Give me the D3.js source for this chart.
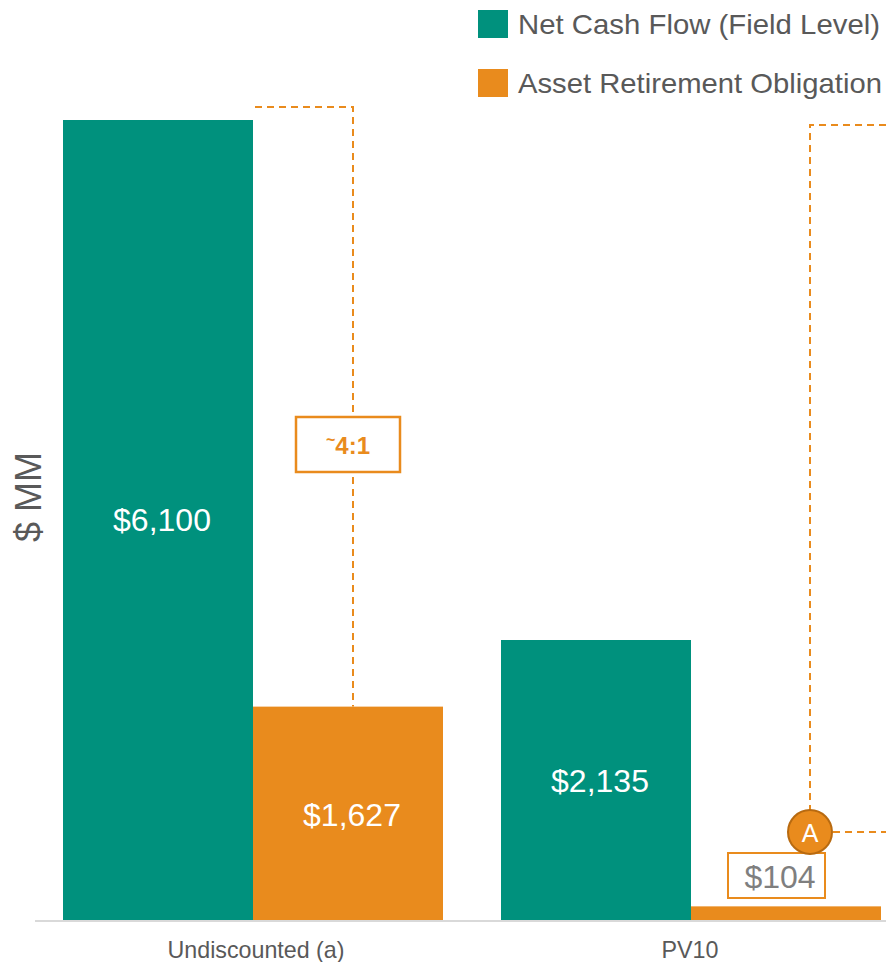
<!DOCTYPE html>
<html><head><meta charset="utf-8">
<script src="https://cdn.jsdelivr.net/npm/d3@7"></script>
<style>body{margin:0;background:#fff}svg{display:block}</style>
</head><body>
<svg id="c" width="886" height="962"></svg>
<script>
const categories = ["Undiscounted (a)", "PV10"];
const seriesNames = ["Net Cash Flow (Field Level)", "Asset Retirement Obligation"];
const netCashFlow = [6100, 2135];
const aro = [1627, 104];
const colors = ["#00917D", "#E98B1D"];

const svg = d3.select("#c");
const base = 920;
const FONT = "'Liberation Sans',Arial,sans-serif";
const x0 = d3.scaleBand().domain(categories).range([34, 910]).paddingInner(58/438).paddingOuter(29/438);
const x1 = d3.scaleBand().domain(seriesNames).range([0, x0.bandwidth()]);
const y = d3.scaleLinear().domain([0, 6100]).range([base, 120]);
const fmt = v => "$" + d3.format(",")(v);

const data = categories.map((c, i) => ({cat: c, vals: [netCashFlow[i], aro[i]]}));

// bars
data.forEach(d => {
  d.vals.forEach((v, j) => {
    svg.append("rect")
      .attr("x", x0(d.cat) + x1(seriesNames[j]))
      .attr("y", y(v))
      .attr("width", x1.bandwidth())
      .attr("height", base - y(v))
      .attr("fill", colors[j]);
  });
});

// baseline
svg.append("line").attr("x1", 35).attr("x2", 886).attr("y1", base + 1).attr("y2", base + 1)
  .attr("stroke", "#d9d9d9").attr("stroke-width", 2);

// category labels
const catLen = [177, 57];
svg.selectAll("text.cat").data(categories).join("text")
  .attr("x", (d, i) => x0(d) + x0.bandwidth() / 2 + (i === 0 ? 3 : -1))
  .attr("y", 958)
  .attr("text-anchor", "middle")
  .attr("font-family", FONT)
  .attr("font-size", 24)
  .attr("textLength", (d, i) => catLen[i])
  .attr("lengthAdjust", "spacingAndGlyphs")
  .attr("fill", "#595959")
  .text(d => d);

// value labels inside bars
const lab = (x, yy, t, col) => svg.append("text").attr("x", x).attr("y", yy)
  .attr("text-anchor", "middle").attr("dominant-baseline", "central")
  .attr("font-family", FONT).attr("font-size", 32)
  .attr("fill", col).text(t);

const cx = (i, j) => x0(categories[i]) + x1(seriesNames[j]) + x1.bandwidth() / 2;
lab(cx(0, 0) + 4, (y(netCashFlow[0]) + base) / 2, fmt(netCashFlow[0]), "#fff");
lab(cx(0, 1) + 4, (y(aro[0]) + base) / 2 + 2, fmt(aro[0]), "#fff");
lab(cx(1, 0) + 4, (y(netCashFlow[1]) + base) / 2 + 1, fmt(netCashFlow[1]), "#fff");

// $104 boxed label
const b104x = cx(1, 1) - 10;
svg.append("rect").attr("x", b104x - 48).attr("y", 853).attr("width", 97).attr("height", 45)
  .attr("fill", "#fff").attr("stroke", colors[1]).attr("stroke-width", 2);
lab(b104x + 4, 877, fmt(aro[1]), "#7f7f7f");

// bracket 1
const dash = "7,5";
const b1x = cx(0, 1) + 5;
svg.append("path")
  .attr("d", `M${x0(categories[0]) + x1.bandwidth() + 2},107 H${b1x} V${y(aro[0])}`)
  .attr("fill", "none").attr("stroke", colors[1]).attr("stroke-width", 2).attr("stroke-dasharray", dash);
svg.append("rect").attr("x", 296).attr("y", 417).attr("width", 104).attr("height", 55)
  .attr("fill", "#fff").attr("stroke", colors[1]).attr("stroke-width", 2.5);
const t41 = svg.append("text").attr("x", 348).attr("y", 445).attr("text-anchor", "middle")
  .attr("dominant-baseline", "central")
  .attr("font-family", FONT).attr("font-weight", "bold")
  .attr("font-size", 24).attr("fill", colors[1]);
t41.append("tspan").attr("font-size", 16).attr("dy", -6).text("~");
t41.append("tspan").attr("dy", 6).text("4:1");

// bracket 2
const b2x = 810, cy = 832;
svg.append("path").attr("d", `M886,125 H${b2x} V${cy - 22}`)
  .attr("fill", "none").attr("stroke", colors[1]).attr("stroke-width", 2).attr("stroke-dasharray", dash);
svg.append("path").attr("d", `M${b2x + 23},${cy} H886`)
  .attr("fill", "none").attr("stroke", colors[1]).attr("stroke-width", 2).attr("stroke-dasharray", dash);
svg.append("circle").attr("cx", b2x).attr("cy", cy).attr("r", 22)
  .attr("fill", colors[1]).attr("stroke", "#B86A10").attr("stroke-width", 2);
svg.append("text").attr("x", b2x).attr("y", cy + 1).attr("text-anchor", "middle")
  .attr("dominant-baseline", "central").attr("font-family", FONT)
  .attr("font-size", 25).attr("fill", "#fff").text("A");

// y axis title
svg.append("text").attr("transform", "translate(41,497) rotate(-90)")
  .attr("text-anchor", "middle").attr("font-family", FONT)
  .attr("font-size", 36).attr("fill", "#595959").text("$ MM");

// legend
const legLen = [362, 364];
const leg = svg.selectAll("g.leg").data(seriesNames).join("g")
  .attr("transform", (d, i) => `translate(478,${10 + i * 59})`);
leg.append("rect").attr("width", 30).attr("height", 28).attr("fill", (d, i) => colors[i]);
leg.append("text").attr("x", 40).attr("y", 14).attr("dominant-baseline", "central")
  .attr("font-family", FONT).attr("font-size", 28)
  .attr("textLength", (d, i) => legLen[i]).attr("lengthAdjust", "spacingAndGlyphs")
  .attr("fill", "#595959").text(d => d);
</script>
</body></html>
